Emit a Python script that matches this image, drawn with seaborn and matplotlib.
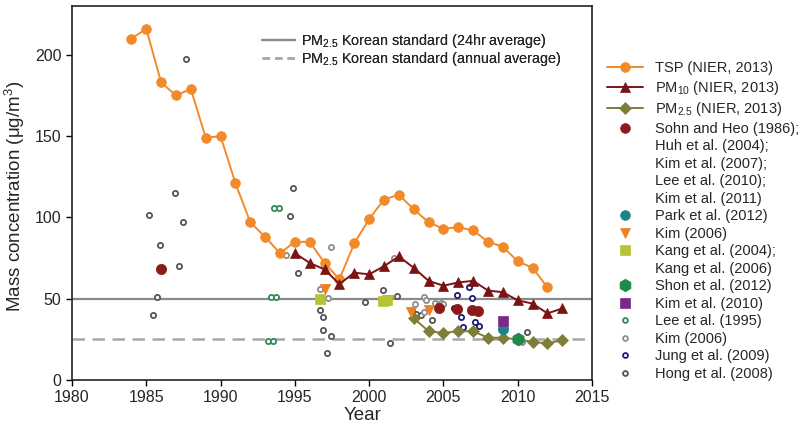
import matplotlib
matplotlib.use("Agg")
import matplotlib.pyplot as plt
from matplotlib.lines import Line2D
import seaborn as sns

# ---------------- data ----------------
tsp_years = [1984, 1985, 1986, 1987, 1988, 1989, 1990, 1991, 1992, 1993, 1994, 1995, 1996, 1997,
             1998, 1999, 2000, 2001, 2002, 2003, 2004, 2005, 2006, 2007, 2008, 2009, 2010, 2011, 2012]
tsp = [210, 216, 183, 175, 179, 149, 150, 121, 97, 88, 78, 85, 85, 72,
       62, 84, 99, 111, 114, 105, 97, 93, 94, 92, 85, 82, 73, 69, 57]

pm10_years = [1995, 1996, 1997, 1998, 1999, 2000, 2001, 2002, 2003, 2004, 2005, 2006, 2007,
              2008, 2009, 2010, 2011, 2012, 2013]
pm10 = [78, 72, 68, 59, 66, 65, 70, 76, 69, 61, 58, 60, 61, 55, 54, 49, 47, 41, 44]

pm25_years = [2003, 2004, 2005, 2006, 2007, 2008, 2009, 2010, 2011, 2012, 2013]
pm25 = [38, 30, 29, 30, 30, 26, 26, 25, 23.5, 22.5, 24.5]

sohn_x = [1986.0, 2004.7, 2005.9, 2006.9, 2007.3]
sohn_y = [68, 44.5, 43.5, 43, 42.5]

park_x = [2009.0]
park_y = [31.6]

kim06_tri_x = [1997.0, 2001.35, 2002.8, 2004.0]
kim06_tri_y = [56, 49, 42, 43]

kang_x = [1996.7, 2000.95, 2001.2]
kang_y = [50, 48.5, 49]

shon_x = [2010.0]
shon_y = [25]

kim10_x = [2009.0]
kim10_y = [36.3]

lee95_x = [1993.6, 1993.95, 1993.4, 1993.7, 1993.2, 1993.5]
lee95_y = [106, 106, 51, 51, 24, 24]

kim06_ring_x = [1994.4, 1996.7, 1997.2, 1997.45, 2001.7, 2003.7, 2003.8, 2003.1, 2003.7,
                2004.4, 2004.7, 2004.85, 2005.0, 2010.3]
kim06_ring_y = [77, 56, 50.6, 81.6, 75, 51, 49.5, 46.5, 41.8,
                47.3, 47, 47.5, 46.5, 23.4]

jung_x = [2006.7, 2005.9, 2006.9, 2005.7, 2006.2, 2006.35, 2007.1, 2007.4]
jung_y = [57.5, 52, 50.6, 44, 38.8, 32.4, 35.5, 33.2]

hong_x = [1987.7, 1986.95, 1985.2, 1987.45, 1985.95, 1987.2, 1985.7, 1985.45,
          1994.9, 1994.7, 1995.2, 1996.7, 1996.9, 1996.9, 1997.45, 1997.17,
          1999.7, 2000.9, 2001.4, 2001.9, 2002.9, 2003.15, 2003.5, 2004.2, 2010.65]
hong_y = [197.5, 115, 101.6, 97, 83, 70, 51.2, 40.2,
          118, 101, 65.7, 43, 38.8, 31, 27, 16.5,
          48, 55.5, 23, 51.6, 43, 40.8, 39.8, 37, 29.6]

x_ticks = [1980, 1985, 1990, 1995, 2000, 2005, 2010, 2015]
y_ticks = [0, 50, 100, 150, 200]

# ---------------- style ----------------
sns.set_theme(style="ticks")
plt.rcParams["font.family"] = ["Liberation Sans", "DejaVu Sans"]
plt.rcParams["mathtext.fontset"] = "custom"
plt.rcParams["mathtext.rm"] = "Liberation Sans"
plt.rcParams["mathtext.it"] = "Liberation Sans:italic"
plt.rcParams["mathtext.bf"] = "Liberation Sans:bold"

C_TSP = "#F28A2A"
C_PM10 = "#7A1414"
C_PM25 = "#7E7E3A"
C_SOHN = "#8B1A1A"
C_PARK = "#1B8484"
C_KIMTRI = "#F07F22"
C_KANG = "#B8C236"
C_SHON = "#1E8A48"
C_KIM10 = "#7A2A86"
C_LEE = "#2E8B57"
C_KIMRING = "#8E8E8E"
C_JUNG = "#1C1C78"
C_HONG = "#555555"

fig = plt.figure(figsize=(8.0, 4.41), dpi=100)
ax = fig.add_axes([0.09, 0.1383, 0.65, 0.848])

# standards
ax.axhline(50, color="#8A8A8A", lw=1.6, zorder=1)
ax.axhline(25, color="#A8A8A8", lw=1.8, ls=(0, (5, 3)), zorder=1)

def ring(xs, ys, color, z=2):
    sns.scatterplot(x=xs, y=ys, ax=ax, marker="o", s=14, facecolor="white",
                    edgecolor=color, linewidth=1.3, zorder=z, legend=False)

ring(lee95_x, lee95_y, C_LEE)
ring(hong_x, hong_y, C_HONG)
ring(kim06_ring_x, kim06_ring_y, C_KIMRING)
ring(jung_x, jung_y, C_JUNG)

sns.lineplot(x=tsp_years, y=tsp, ax=ax, color=C_TSP, lw=1.4, marker="o", markersize=7,
             markeredgecolor=C_TSP, markeredgewidth=0.5, zorder=3, legend=False)
sns.lineplot(x=pm10_years, y=pm10, ax=ax, color=C_PM10, lw=1.4, marker="^", markersize=7.5,
             markeredgecolor=C_PM10, markeredgewidth=0.5, zorder=3, legend=False)
sns.lineplot(x=pm25_years, y=pm25, ax=ax, color=C_PM25, lw=1.4, marker="D", markersize=6,
             markeredgecolor=C_PM25, markeredgewidth=0.5, zorder=3, legend=False)

def solid(xs, ys, marker, color, s, z=4):
    sns.scatterplot(x=xs, y=ys, ax=ax, marker=marker, s=s, color=color,
                    edgecolor=color, linewidth=0.5, zorder=z, legend=False)

solid(sohn_x, sohn_y, "o", C_SOHN, 55)
solid(park_x, park_y, "o", C_PARK, 55)
solid(kim06_tri_x, kim06_tri_y, "v", C_KIMTRI, 55)
solid(kang_x, kang_y, "s", C_KANG, 60)
solid(shon_x, shon_y, "h", C_SHON, 85)
solid(kim10_x, kim10_y, "s", C_KIM10, 50)

ax.set_xlim(1980, 2015)
ax.set_ylim(0, 230)
ax.set_xticks(x_ticks)
ax.set_yticks(y_ticks)
ax.tick_params(axis="both", labelsize=11.5, length=4, width=1, direction="out", color="black")
for sp in ax.spines.values():
    sp.set_color("#222222")
    sp.set_linewidth(1.2)
ax.set_xlabel("Year", fontsize=13.5)
ax.set_ylabel("Mass concentration (μg/m$^3$)", fontsize=13.5)
ax.xaxis.set_label_coords(0.558, -0.072)
ax.yaxis.set_label_coords(-0.086, 0.49)

# legend for standards (inside)
std_handles = [Line2D([], [], color="#8A8A8A", lw=1.6),
               Line2D([], [], color="#A8A8A8", lw=1.8, ls=(0, (3, 2)))]
std_labels = ["PM$_{2.5}$ Korean standard (24hr average)",
              "PM$_{2.5}$ Korean standard (annual average)"]
leg1 = ax.legend(std_handles, std_labels, loc="upper left", bbox_to_anchor=(0.34, 0.966),
                 frameon=False, fontsize=10.4, handlelength=2.3, handletextpad=0.4,
                 labelspacing=0.0)
ax.add_artist(leg1)

# legend for studies (outside)
blank = Line2D([], [], linestyle="none", marker=None)
def mk(marker, color, ms, line=False, fc=None, mew=0.5):
    return Line2D([], [], color=color, lw=1.4 if line else 0,
                  linestyle="-" if line else "none", marker=marker, markersize=ms,
                  markerfacecolor=fc if fc else color, markeredgecolor=color,
                  markeredgewidth=mew)

handles = [
    mk("o", C_TSP, 7, True),
    mk("^", C_PM10, 7.5, True),
    mk("D", C_PM25, 6, True),
    mk("o", C_SOHN, 7), blank, blank, blank, blank,
    mk("o", C_PARK, 7),
    mk("v", C_KIMTRI, 7.5),
    mk("s", C_KANG, 7), blank,
    mk("h", C_SHON, 9),
    mk("s", C_KIM10, 7),
    mk("o", C_LEE, 3.5, fc="white", mew=1.3),
    mk("o", C_KIMRING, 3.5, fc="white", mew=1.3),
    mk("o", C_JUNG, 3.5, fc="white", mew=1.3),
    mk("o", C_HONG, 3.5, fc="white", mew=1.3),
]
labels = [
    "TSP (NIER, 2013)",
    "PM$_{10}$ (NIER, 2013)",
    "PM$_{2.5}$ (NIER, 2013)",
    "Sohn and Heo (1986);",
    "Huh et al. (2004);",
    "Kim et al. (2007);",
    "Lee et al. (2010);",
    "Kim et al. (2011)",
    "Park et al. (2012)",
    "Kim (2006)",
    "Kang et al. (2004);",
    "Kang et al. (2006)",
    "Shon et al. (2012)",
    "Kim et al. (2010)",
    "Lee et al. (1995)",
    "Kim (2006)",
    "Jung et al. (2009)",
    "Hong et al. (2008)",
]
fig.legend(handles, labels, loc="upper left", bbox_to_anchor=(0.751, 0.874),
           frameon=False, fontsize=10.5, handlelength=2.5, handletextpad=0.8,
           labelspacing=0.24, borderaxespad=0)

fig.savefig("out.png", dpi=100)
